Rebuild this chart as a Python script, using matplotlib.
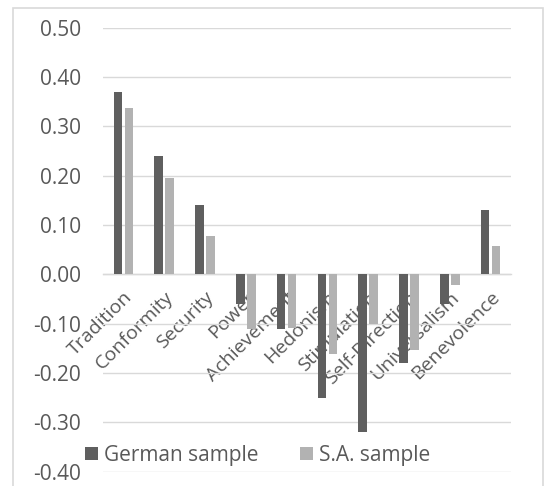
import numpy as np
import matplotlib
matplotlib.use("Agg")
import matplotlib.pyplot as plt
from matplotlib.patches import Rectangle

categories = ["Tradition", "Conformity", "Security", "Power", "Achievement",
              "Hedonism", "Stimulation", "Self-Direction", "Universalism", "Benevolence"]
german = [0.37, 0.24, 0.14, -0.06, -0.11, -0.25, -0.32, -0.18, -0.06, 0.13]
sa = [0.337, 0.195, 0.077, -0.11, -0.108, -0.161, -0.10, -0.153, -0.022, 0.058]
yticks = [0.5, 0.4, 0.3, 0.2, 0.1, 0.0, -0.1, -0.2, -0.3, -0.4]

plt.rcParams['font.family'] = ['Open Sans', 'DejaVu Sans']
txt = '#595959'
grid = '#D9D9D9'

fig = plt.figure(figsize=(5.47, 4.86), dpi=100)
fig.patch.set_facecolor('white')
# chart frame
fig.patches.append(Rectangle((13/547, -0.05), 530/547, 1.05 - 8/486, transform=fig.transFigure,
                             fill=False, edgecolor=grid, lw=1.2))

ax = fig.add_axes([103/547, 1 - 471.7/486, 408/547, 444/486])
x = np.arange(len(categories))
w = 0.21
ax.bar(x - 0.135, german, w, color='#5F5F5F', label='German sample', zorder=3)
ax.bar(x + 0.135, sa, w, color='#B2B2B2', label='S.A. sample', zorder=3)

ax.set_xlim(-0.5, len(categories) - 0.5)
ax.set_ylim(-0.4, 0.5)
ax.set_yticks(yticks)
ax.set_yticklabels(['%.2f' % v for v in yticks])
ax.yaxis.grid(True, color=grid, lw=1.0, zorder=0)
ax.set_axisbelow(True)
for s in ['left', 'right', 'top']:
    ax.spines[s].set_visible(False)
ax.spines['bottom'].set_position(('data', 0))
ax.spines['bottom'].set_color(grid)
ax.spines['bottom'].set_linewidth(1.0)
ax.tick_params(axis='y', length=0, pad=16, labelsize=15, labelcolor=txt)
ax.tick_params(axis='x', length=0, pad=10, labelsize=14, labelcolor=txt)
ax.set_xticks(x)
ax.set_xticklabels(categories, rotation=45, ha='right', va='top', rotation_mode='anchor')

fig.legend(loc='center left', bbox_to_anchor=(77/547, 1 - 455/486), ncol=2, frameon=False,
           fontsize=15, labelcolor=txt, handlelength=0.6, handleheight=0.6,
           handletextpad=0.3, columnspacing=2.0, borderaxespad=0)

fig.savefig('out.png', dpi=100)
